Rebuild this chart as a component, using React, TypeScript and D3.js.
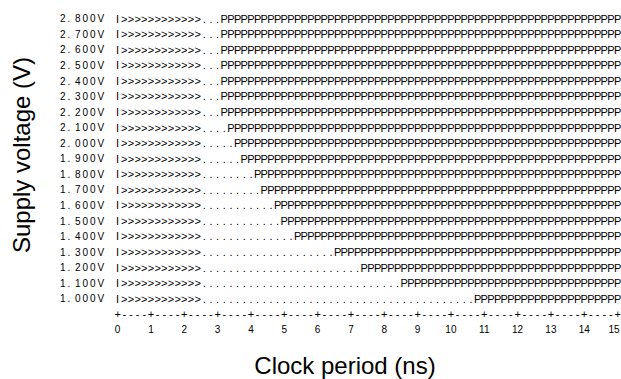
import React from "react";
import * as d3 from "d3";

// Shmoo plot data
const voltages = [
  "2.800V", "2.700V", "2.600V", "2.500V", "2.400V", "2.300V", "2.200V",
  "2.100V", "2.000V", "1.900V", "1.800V", "1.700V", "1.600V", "1.500V",
  "1.400V", "1.300V", "1.200V", "1.100V", "1.000V",
];
// clock period (ns) at which the first pass ("P") appears for each voltage
const passStartNs = [
  3.2, 3.2, 3.2, 3.2, 3.2, 3.2, 3.2,
  3.4, 3.6, 3.8, 4.2, 4.4, 4.8, 5.0,
  5.4, 6.6, 7.4, 8.6, 10.8,
];
// periods up to this value are marked ">" (out of range)
const failEndNs = 2.4;
const stepNs = 0.2;
const xMaxNs = 15;
const xTickValues = [0, 1, 2, 3, 4, 5, 6, 7, 8, 9, 10, 11, 12, 13, 14, 15];
const xLabel = "Clock period (ns)";
const yLabel = "Supply voltage (V)";

const FONT = "'Liberation Sans', Arial, Helvetica, sans-serif";

export default function App() {
  const W = 621;
  const H = 379;
  // cell centres of the character grid
  const x = d3.scaleLinear().domain([0, xMaxNs]).range([117.6, 617.6]);
  const y = d3.scalePoint<string>().domain(voltages).range([22.3, 302.3]);
  const pitch = y.step();
  const nCols = Math.round(xMaxNs / stepNs) + 1;
  const cols = d3.range(nCols);
  const eps = 1e-6;

  const rowChar = (c: number, pass: number) => {
    const t = c * stepNs;
    if (c === 0) return "I";
    if (t <= failEndNs + eps) return ">";
    if (t < pass - eps) return ".";
    return "P";
  };

  const xs = cols.map((c) => x(c * stepNs).toFixed(2)).join(" ");
  const axisY = y(voltages[voltages.length - 1])! + pitch;
  const tickLabelY = axisY + pitch;
  const axisStr = cols.map((c) => (c % 5 === 0 ? "+" : "-")).join("");

  const labelPitch = 7.5;
  const labelX0 = 60;

  return (
    <svg
      width={W}
      height={H}
      style={{ position: "absolute", left: 0, top: 0, background: "#fff" }}
      fontFamily={FONT}
    >
      <rect width={W} height={H} fill="#fff" />
      <g fontSize={10} fill="#000">
        {voltages.map((v, i) => (
          <g key={v}>
            <text
              x={v.split("").map((_, k) => labelX0 + k * labelPitch).join(" ")}
              y={y(v)}
            >
              {v}
            </text>
            <text x={xs} y={y(v)! + 0.4} textAnchor="middle" fontSize={11}>
              {cols.map((c) => rowChar(c, passStartNs[i])).join("")}
            </text>
          </g>
        ))}
        <text x={xs} y={axisY + 0.4} textAnchor="middle" fontSize={11}>
          {axisStr}
        </text>
        {xTickValues.map((t) => (
          <text
            key={t}
            x={Math.min(x(t), 614)}
            y={tickLabelY}
            textAnchor="middle"
          >
            {t}
          </text>
        ))}
      </g>
      <text
        x={345}
        y={374}
        textAnchor="middle"
        fontSize={24}
        fill="#000"
      >
        {xLabel}
      </text>
      <text
        transform={`translate(30,155) rotate(-90)`}
        textAnchor="middle"
        fontSize={24}
        fill="#000"
      >
        {yLabel}
      </text>
    </svg>
  );
}
